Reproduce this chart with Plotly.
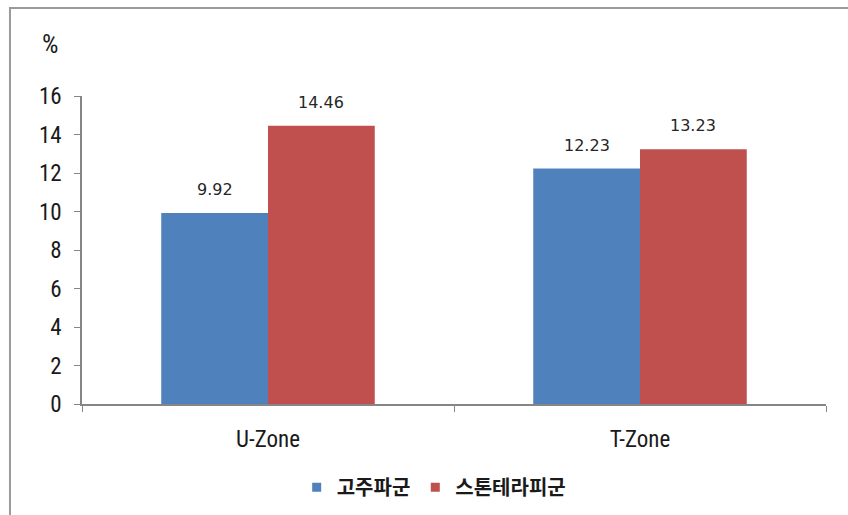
import plotly.graph_objects as go

categories = ["U-Zone", "T-Zone"]
series_names = ["고주파군", "스톤테라피군"]
gojupa = [9.92, 12.23]
stone = [14.46, 13.23]
y_ticks = [0, 2, 4, 6, 8, 10, 12, 14, 16]

colors = ["#4F81BD", "#C0504D"]
font_narrow = "Liberation Sans Narrow, Arial Narrow, Roboto Condensed, Liberation Sans, sans-serif"

fig = go.Figure()
for name, vals, col in zip(series_names, [gojupa, stone], colors):
    fig.add_trace(go.Bar(
        x=categories, y=vals, name=name, marker_color=col, marker_line_width=0,
        showlegend=False,
    ))
    # legend entry with a small square marker
    fig.add_trace(go.Scatter(
        x=[None], y=[None], mode="markers", name=name,
        marker=dict(symbol="square", size=9, color=col),
    ))

# data labels above each bar
for vals, off in zip([gojupa, stone], [-0.1435, 0.1435]):
    for i, v in enumerate(vals):
        fig.add_annotation(x=i + off, y=v, xref="x", yref="y", text=f"{v:.2f}",
                           showarrow=False, yanchor="bottom", yshift=12,
                           font=dict(family="DejaVu Sans, sans-serif", size=16, color="#262626"))

fig.update_layout(
    width=848, height=515,
    margin=dict(l=82, r=22, t=96, b=111, autoexpand=False),
    paper_bgcolor="white", plot_bgcolor="white",
    barmode="group", bargap=0.426, bargroupgap=0,
    showlegend=True,
    legend=dict(orientation="h", x=0.512, xref="container", xanchor="center",
                y=0.054, yref="container", yanchor="middle",
                font=dict(family="Noto Sans CJK KR, sans-serif", size=20, color="#1a1a1a", weight="bold"),
                itemwidth=30, traceorder="normal", tracegroupgap=0),
    xaxis=dict(showline=True, linecolor="#868686", linewidth=1.5, ticks="outside",
               tickson="boundaries", ticklen=6, tickcolor="#868686",
               ticklabelstandoff=14, automargin=False,
               tickfont=dict(family=font_narrow, size=23, color="#1a1a1a"),
               showgrid=False),
    yaxis=dict(range=[0, 16], tickvals=y_ticks, showline=True, linecolor="#868686", linewidth=1.5,
               ticks="outside", ticklen=6, tickcolor="#868686", showgrid=False, zeroline=False,
               ticklabelstandoff=8, automargin=False,
               tickfont=dict(family=font_narrow, size=23, color="#1a1a1a")),
)

fig.add_annotation(text="%", xref="paper", yref="paper", x=-0.03, y=1.17,
                   xanchor="right", yanchor="middle", showarrow=False,
                   font=dict(family=font_narrow, size=26, color="#1a1a1a"))

fig.add_shape(type="rect", xref="paper", yref="paper",
              x0=-0.0968, y0=-0.5, x1=1.2, y1=1.2857,
              line=dict(color="#9a9a9a", width=2), fillcolor="rgba(0,0,0,0)", layer="below")

fig.write_html("out.html")
